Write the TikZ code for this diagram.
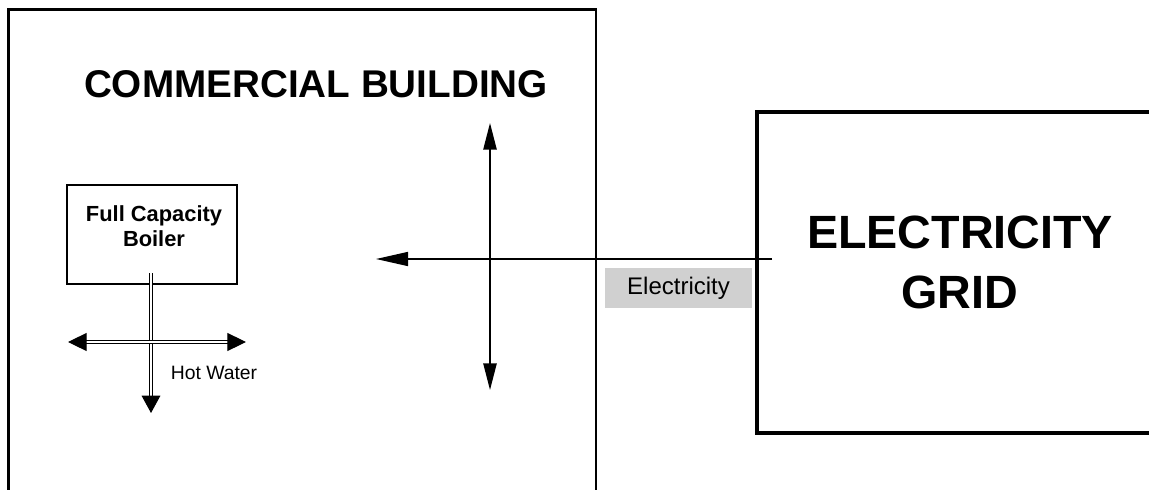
\documentclass[tikz,border=0pt]{standalone}
\usepackage{fontspec}
\setmainfont{Liberation Sans}
\usetikzlibrary{arrows.meta, calc}
\definecolor{elecgray}{HTML}{D0D0D0}

\begin{document}
\begin{tikzpicture}[x=0.75pt,y=-0.75pt,
	box/.style={draw, rectangle, inner sep=0pt},
	pipe/.style={double, double distance=1.7pt, line width=0.8pt},
	wire/.style={line width=1.1pt}]
	\useasboundingbox (0,0) rectangle (1149,489);
	\clip (0,0) rectangle (1149,489);
	% building
	\node[box, line width=2.2pt, minimum width=440.6pt, minimum height=383pt] (bldg) at (302.25,264.5) {};
	\node[font=\bfseries\fontsize{29}{34}\selectfont, anchor=base] (bldgname) at (316,97) {COMMERCIAL BUILDING};
	% grid
	\node[box, line width=3.4pt, minimum width=306pt, minimum height=240.75pt] (grid) at (961,272.5) {};
	\node[font=\bfseries\fontsize{35}{45}\selectfont, align=center] (gridname) at (960,262) {ELECTRICITY\\GRID};
	% boiler
	\node[box, line width=0.8pt, minimum width=127.5pt, minimum height=74.25pt] (boiler) at (152,234.5) {};
	\node[font=\bfseries\fontsize{16.4}{18.75}\selectfont, align=center] (boilername) at (154,226.5) {Full Capacity\\Boiler};
	% hot water
	\coordinate (pt) at (151,273);
	\coordinate (pb) at (151,413);
	\draw[pipe, -{Triangle[length=13pt,width=14pt]}] (pt) -- (pb);
	\coordinate (hl) at (68,342);
	\coordinate (hr) at (246,342);
	\draw[pipe, {Triangle[length=14pt,width=13.5pt]}-{Triangle[length=14pt,width=13.5pt]}] (hl) -- (hr);
	\node[font=\fontsize{14.5}{17}\selectfont] (hotwater) at (214,373) {Hot Water};
	% electricity
	\coordinate (vt) at (490,123);
	\coordinate (vb) at (490,390);
	\draw[wire, {Triangle[length=20pt,width=10pt]}-{Triangle[length=20pt,width=10pt]}] (vt) -- (vb);
	\coordinate (src) at (772,259);
	\coordinate (dst) at (376,259);
	\draw[wire, -{Triangle[length=24pt,width=10.5pt]}] (src) -- (dst);
	\node[fill=elecgray, minimum width=110pt, minimum height=30pt, font=\fontsize{18}{21}\selectfont] (eleclabel) at (678.5,288) {Electricity};
\end{tikzpicture}
\end{document}
